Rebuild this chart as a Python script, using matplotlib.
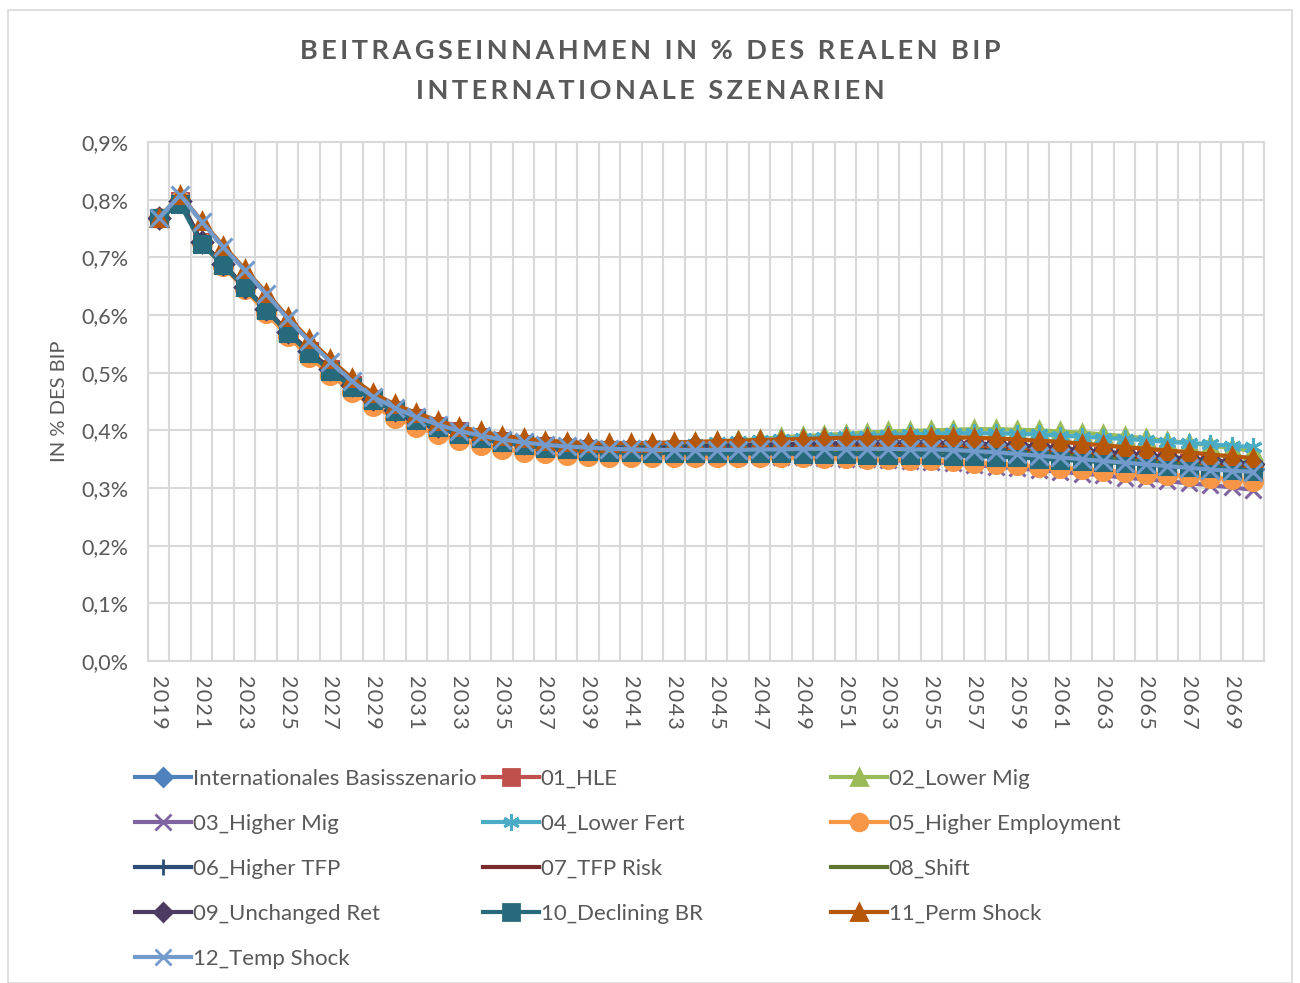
import matplotlib
matplotlib.use("Agg")
import matplotlib.pyplot as plt
from matplotlib.lines import Line2D
from matplotlib.patches import Rectangle
from matplotlib.ticker import FuncFormatter
import numpy as np

plt.rcParams['font.family'] = ['Lato', 'DejaVu Sans']

years = list(range(2019, 2071))

# Beitragseinnahmen in % des realen BIP, je Szenario
basis = [0.768, 0.797, 0.726, 0.688, 0.649, 0.610, 0.571, 0.537, 0.506, 0.478, 0.455, 0.436, 0.421, 0.408, 0.398, 0.389, 0.382, 0.377, 0.373, 0.370, 0.368, 0.366, 0.365, 0.365, 0.365, 0.365, 0.365, 0.366, 0.366, 0.367, 0.367, 0.368, 0.368, 0.369, 0.369, 0.369, 0.369, 0.368, 0.367, 0.366, 0.364, 0.362, 0.360, 0.357, 0.354, 0.351, 0.348, 0.345, 0.342, 0.339, 0.336, 0.333]
hle = [0.768, 0.797, 0.726, 0.688, 0.649, 0.610, 0.571, 0.537, 0.506, 0.478, 0.455, 0.436, 0.421, 0.408, 0.398, 0.389, 0.382, 0.377, 0.373, 0.370, 0.368, 0.366, 0.366, 0.366, 0.366, 0.366, 0.367, 0.367, 0.368, 0.368, 0.369, 0.369, 0.370, 0.370, 0.370, 0.370, 0.370, 0.369, 0.368, 0.367, 0.366, 0.364, 0.362, 0.359, 0.356, 0.353, 0.350, 0.347, 0.344, 0.341, 0.338, 0.335]
lower_mig = [0.768, 0.797, 0.726, 0.688, 0.649, 0.610, 0.571, 0.537, 0.506, 0.479, 0.456, 0.437, 0.422, 0.410, 0.400, 0.391, 0.385, 0.380, 0.377, 0.375, 0.374, 0.374, 0.375, 0.376, 0.377, 0.379, 0.381, 0.383, 0.385, 0.388, 0.390, 0.392, 0.394, 0.396, 0.398, 0.399, 0.400, 0.401, 0.402, 0.402, 0.401, 0.400, 0.398, 0.396, 0.393, 0.390, 0.386, 0.382, 0.378, 0.374, 0.369, 0.364]
higher_mig = [0.768, 0.797, 0.725, 0.687, 0.648, 0.609, 0.570, 0.535, 0.504, 0.476, 0.453, 0.434, 0.419, 0.406, 0.395, 0.386, 0.379, 0.373, 0.368, 0.364, 0.361, 0.359, 0.358, 0.357, 0.357, 0.356, 0.356, 0.355, 0.355, 0.354, 0.353, 0.352, 0.351, 0.350, 0.348, 0.347, 0.345, 0.343, 0.340, 0.337, 0.334, 0.331, 0.328, 0.325, 0.322, 0.318, 0.315, 0.312, 0.308, 0.305, 0.301, 0.297]
lower_fert = [0.768, 0.797, 0.726, 0.688, 0.649, 0.610, 0.571, 0.537, 0.506, 0.478, 0.455, 0.437, 0.422, 0.409, 0.399, 0.391, 0.384, 0.379, 0.375, 0.373, 0.372, 0.372, 0.373, 0.374, 0.375, 0.377, 0.379, 0.381, 0.383, 0.385, 0.387, 0.389, 0.390, 0.391, 0.392, 0.393, 0.394, 0.395, 0.395, 0.395, 0.394, 0.393, 0.391, 0.389, 0.387, 0.385, 0.383, 0.380, 0.378, 0.376, 0.373, 0.371]
higher_emp = [0.768, 0.797, 0.724, 0.685, 0.645, 0.604, 0.564, 0.528, 0.496, 0.467, 0.442, 0.422, 0.406, 0.393, 0.383, 0.375, 0.368, 0.363, 0.360, 0.357, 0.355, 0.354, 0.353, 0.353, 0.353, 0.353, 0.353, 0.353, 0.353, 0.353, 0.353, 0.352, 0.352, 0.351, 0.350, 0.349, 0.348, 0.346, 0.344, 0.342, 0.340, 0.337, 0.335, 0.333, 0.330, 0.328, 0.325, 0.323, 0.320, 0.318, 0.315, 0.313]
higher_tfp = [0.768, 0.797, 0.726, 0.688, 0.649, 0.610, 0.571, 0.537, 0.506, 0.478, 0.455, 0.436, 0.421, 0.408, 0.397, 0.388, 0.381, 0.375, 0.371, 0.368, 0.365, 0.363, 0.362, 0.362, 0.361, 0.361, 0.361, 0.362, 0.362, 0.362, 0.363, 0.363, 0.363, 0.364, 0.364, 0.364, 0.364, 0.363, 0.362, 0.361, 0.359, 0.357, 0.355, 0.353, 0.350, 0.347, 0.344, 0.341, 0.338, 0.335, 0.332, 0.329]
tfp_risk = [0.768, 0.797, 0.726, 0.688, 0.649, 0.610, 0.571, 0.537, 0.506, 0.478, 0.455, 0.436, 0.421, 0.408, 0.398, 0.390, 0.383, 0.378, 0.374, 0.371, 0.369, 0.368, 0.367, 0.367, 0.367, 0.367, 0.368, 0.368, 0.369, 0.369, 0.370, 0.370, 0.371, 0.371, 0.371, 0.371, 0.371, 0.370, 0.369, 0.368, 0.366, 0.364, 0.362, 0.359, 0.356, 0.353, 0.350, 0.347, 0.344, 0.341, 0.338, 0.336]
shift = [0.768, 0.797, 0.726, 0.688, 0.649, 0.610, 0.571, 0.537, 0.506, 0.478, 0.455, 0.436, 0.421, 0.408, 0.398, 0.389, 0.382, 0.377, 0.373, 0.370, 0.367, 0.365, 0.364, 0.364, 0.364, 0.364, 0.364, 0.364, 0.365, 0.365, 0.365, 0.366, 0.366, 0.366, 0.366, 0.366, 0.366, 0.365, 0.364, 0.363, 0.361, 0.359, 0.357, 0.355, 0.352, 0.349, 0.346, 0.343, 0.340, 0.337, 0.334, 0.331]
unchanged_ret = [0.768, 0.797, 0.726, 0.688, 0.649, 0.610, 0.571, 0.537, 0.506, 0.478, 0.455, 0.436, 0.421, 0.408, 0.398, 0.390, 0.383, 0.378, 0.375, 0.372, 0.371, 0.370, 0.370, 0.370, 0.371, 0.372, 0.373, 0.374, 0.375, 0.376, 0.377, 0.378, 0.378, 0.379, 0.379, 0.379, 0.379, 0.378, 0.377, 0.376, 0.374, 0.372, 0.369, 0.366, 0.363, 0.360, 0.357, 0.354, 0.351, 0.348, 0.345, 0.342]
declining_br = [0.768, 0.792, 0.723, 0.687, 0.648, 0.609, 0.569, 0.534, 0.503, 0.475, 0.452, 0.433, 0.418, 0.405, 0.394, 0.386, 0.379, 0.374, 0.370, 0.367, 0.365, 0.363, 0.362, 0.361, 0.361, 0.360, 0.360, 0.360, 0.360, 0.360, 0.359, 0.359, 0.359, 0.358, 0.358, 0.357, 0.357, 0.356, 0.355, 0.354, 0.353, 0.351, 0.349, 0.347, 0.345, 0.343, 0.341, 0.338, 0.336, 0.334, 0.332, 0.330]
perm_shock = [0.768, 0.808, 0.763, 0.720, 0.680, 0.639, 0.597, 0.558, 0.523, 0.490, 0.464, 0.445, 0.430, 0.417, 0.406, 0.398, 0.391, 0.386, 0.382, 0.380, 0.378, 0.378, 0.378, 0.378, 0.379, 0.380, 0.381, 0.382, 0.383, 0.384, 0.385, 0.386, 0.387, 0.387, 0.388, 0.388, 0.388, 0.388, 0.387, 0.386, 0.384, 0.382, 0.380, 0.377, 0.374, 0.371, 0.368, 0.365, 0.362, 0.358, 0.355, 0.352]
temp_shock = [0.768, 0.808, 0.762, 0.718, 0.678, 0.637, 0.594, 0.555, 0.519, 0.485, 0.458, 0.439, 0.423, 0.410, 0.399, 0.391, 0.384, 0.379, 0.375, 0.372, 0.370, 0.368, 0.367, 0.366, 0.366, 0.366, 0.366, 0.366, 0.367, 0.367, 0.368, 0.368, 0.368, 0.368, 0.368, 0.367, 0.367, 0.366, 0.364, 0.362, 0.359, 0.356, 0.353, 0.350, 0.347, 0.344, 0.341, 0.338, 0.335, 0.332, 0.330, 0.328]

labels = ["Internationales Basisszenario", "01_HLE", "02_Lower Mig", "03_Higher Mig",
          "04_Lower Fert", "05_Higher Employment", "06_Higher TFP", "07_TFP Risk",
          "08_Shift", "09_Unchanged Ret", "10_Declining BR", "11_Perm Shock", "12_Temp Shock"]
series = [basis, hle, lower_mig, higher_mig, lower_fert, higher_emp, higher_tfp,
          tfp_risk, shift, unchanged_ret, declining_br, perm_shock, temp_shock]
colors = ["#4F81BD", "#C0504D", "#9BBB59", "#8064A2", "#4BACC6", "#F79646",
          "#2C4D75", "#772C2A", "#5F7530", "#4D3B62", "#276A7C", "#B65708", "#729ACA"]
markers = ["D", "s", "^", "x", (6, 2, 0), "o", "|", "_", "_", "D", "s", "^", "x"]
msizes = [10, 12, 12, 12, 13, 13, 12, 10, 10, 10, 12, 12, 13]

fig = plt.figure(figsize=(13, 9.83), dpi=100)
ax = fig.add_axes([148 / 1300, 1 - 661 / 983, (1264 - 148) / 1300, (661 - 142) / 983])

x = np.arange(len(years))
for i, (vals, lab) in enumerate(zip(series, labels)):
    ax.plot(x, np.array(vals) / 100, color=colors[i], lw=3, marker=markers[i],
            ms=msizes[i], mew=2.2, mfc=colors[i], mec=colors[i], label=lab, zorder=3 + i,
            solid_capstyle='round')

grid_c = "#D9D9D9"
text_c = "#595959"
ax.set_xlim(-0.5, len(years) - 0.5)
ax.set_ylim(0, 0.009)
ax.set_yticks(np.arange(0, 0.0091, 0.001))
ax.yaxis.set_major_formatter(FuncFormatter(lambda v, p: f"{v * 100:.1f}%".replace(".", ",")))
ax.set_xticks(x[::2])
ax.set_xticklabels(["\u200a".join(str(y)) for y in years[::2]], rotation=-90)
ax.set_xticks(np.arange(-0.5, len(years), 1), minor=True)
ax.grid(axis='y', which='major', color=grid_c, lw=1.5)
ax.grid(axis='x', which='minor', color=grid_c, lw=1.5)
ax.set_axisbelow(True)
ax.tick_params(which='both', length=0, labelsize=15.5, labelcolor=text_c)
ax.tick_params(axis='x', pad=10)
ax.tick_params(axis='y', pad=14)
for s in ax.spines.values():
    s.set_color(grid_c)
    s.set_linewidth(1.5)
ax.set_ylabel("IN % DES BIP", fontsize=14.5, color=text_c, labelpad=10)


def spaced(t):
    return "\u200a\u200a".join(t)


fig.text(0.5, 1 - 51 / 983, spaced("BEITRAGSEINNAHMEN IN % DES REALEN BIP"), ha='center', va='center',
         fontsize=19.5, fontweight='bold', color=text_c)
fig.text(0.5, 1 - 91 / 983, spaced("INTERNATIONALE SZENARIEN"), ha='center', va='center',
         fontsize=19.5, fontweight='bold', color=text_c)

cols = [[0, 3, 6, 9, 12], [1, 4, 7, 10], [2, 5, 8, 11]]
col_x = [135 / 1300, 483 / 1300, 831 / 1300]
for cx, idx in zip(col_x, cols):
    hs = [Line2D([], [], color=colors[k], lw=3, marker=markers[k], ms=msizes[k] - 1, mew=2,
                 mfc=colors[k], mec=colors[k]) for k in idx]
    leg = fig.legend(hs, [labels[k] for k in idx], loc='upper left', bbox_to_anchor=(cx, 1 - 769 / 983),
                     frameon=False, fontsize=16, handlelength=2.5, handletextpad=0.1,
                     labelspacing=1.12, borderaxespad=0, borderpad=0)
    for t in leg.get_texts():
        t.set_color(text_c)

fig.patches.append(Rectangle((8 / 1300, 0), 1284 / 1300, 1 - 10 / 983, transform=fig.transFigure,
                             fill=False, edgecolor=grid_c, lw=1.2))

fig.savefig("out.png", dpi=100)
